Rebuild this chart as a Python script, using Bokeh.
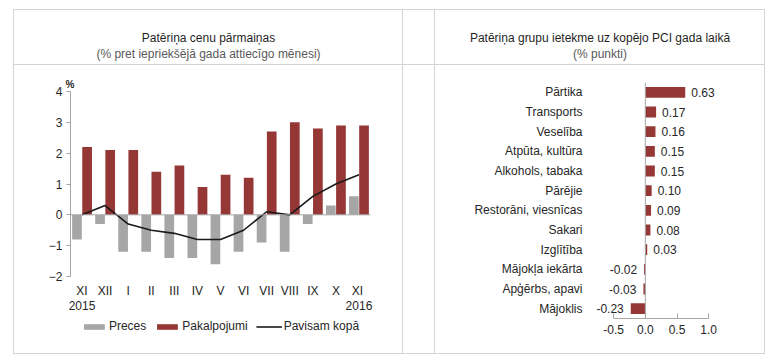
import json
from bokeh.plotting import figure
from bokeh.models import (ColumnDataSource, FactorRange, Range1d, Span, Legend, LegendItem,
                          FixedTicker, NumeralTickFormatter, Title, Spacer, CategoricalAxis,
                          CustomJSTickFormatter)
from bokeh.layouts import row, column
from bokeh.transform import dodge
from bokeh.core.properties import value
from bokeh.embed import file_html
from bokeh.resources import INLINE

# ---------------- data ----------------
months = ["XI", "XII", "I", "II", "III", "IV", "V", "VI", "VII", "VIII", "IX", "X", "XI "]
years = {"XI": "2015", "XI ": "2016"}
preces = [-0.8, -0.3, -1.2, -1.2, -1.4, -1.4, -1.6, -1.2, -0.9, -1.2, -0.3, 0.3, 0.6]
pakalpojumi = [2.2, 2.1, 2.1, 1.4, 1.6, 0.9, 1.3, 1.2, 2.7, 3.0, 2.8, 2.9, 2.9]
pavisam = [0.0, 0.3, -0.3, -0.5, -0.6, -0.8, -0.8, -0.5, 0.1, 0.0, 0.6, 1.0, 1.3]
y_ticks_left = [-2, -1, 0, 1, 2, 3, 4]
series_names = ["Preces", "Pakalpojumi", "Pavisam kopā"]

groups = ["Pārtika", "Transports", "Veselība", "Atpūta, kultūra", "Alkohols, tabaka", "Pārējie",
          "Restorāni, viesnīcas", "Sakari", "Izglītība", "Mājokļa iekārta", "Apģērbs, apavi", "Mājoklis"]
impact = [0.63, 0.17, 0.16, 0.15, 0.15, 0.10, 0.09, 0.08, 0.03, -0.02, -0.03, -0.23]
x_ticks_right = [-0.5, 0.0, 0.5, 1.0]

title_left = "Patēriņa cenu pārmaiņas"
subtitle_left = "(% pret iepriekšējā gada attiecīgo mēnesi)"
title_right = "Patēriņa grupu ietekme uz kopējo PCI gada laikā"
subtitle_right = "(% punkti)"

# ---------------- style ----------------
FONT = "Liberation Sans"
RED = "#953735"
GREY = "#a6a6a6"
LINE = "#1a1a1a"
BORDER = "#d4d4d4"
AXIS = "#a6a6a6"
TXT = "#262626"

W_LEFT, W_MID, W_RIGHT = 388, 31, 329
H_HEAD, H_BODY = 54, 288
H_LEG = 38
W_TOTAL = W_LEFT + W_MID + W_RIGHT + 4


def blank(w, h, x_range=None, y_range=None, **kw):
    f = figure(width=w, height=h, x_range=x_range or Range1d(0, 1),
               y_range=y_range or Range1d(0, h),
               x_axis_location=None, y_axis_location=None, min_border=0,
               output_backend="svg", toolbar_location=None, **kw)
    f.grid.visible = False
    f.outline_line_color = None
    return f


def header(w, title, subtitle):
    f = blank(w, H_HEAD)
    f.text(x=[0.5, 0.5], y=[H_HEAD - 27, H_HEAD - 43], text=[title, subtitle],
           text_color=["#1f1f1f", "#595959"], text_align="center", text_baseline="middle",
           text_font=value(FONT), text_font_size="12px")
    return f


def vline(h):
    return Spacer(width=1, height=h, margin=0, styles={"background-color": BORDER})


def hline():
    return Spacer(width=W_TOTAL, height=1, margin=0, styles={"background-color": BORDER})


def add_series(f, source):
    a = f.vbar(x=dodge("month", -0.22, range=f.x_range), top="preces", width=0.42, source=source,
               fill_color=GREY, line_color=None)
    b = f.vbar(x=dodge("month", 0.22, range=f.x_range), top="pak", width=0.42, source=source,
               fill_color=RED, line_color=None)
    return a, b


h1 = header(W_LEFT, title_left, subtitle_left)
hm = blank(W_MID, H_HEAD)
h2 = header(W_RIGHT, title_right, subtitle_right)

# ---------------- left chart ----------------
H_P1 = H_BODY - H_LEG
src = ColumnDataSource(dict(month=months, preces=preces, pak=pakalpojumi, tot=pavisam))
p1 = figure(frame_width=300, frame_height=185, x_range=FactorRange(factors=months),
            y_range=Range1d(-2, 4), min_border_left=56, min_border_right=W_LEFT - 56 - 300,
            min_border_top=26, min_border_bottom=H_P1 - 26 - 185,
            output_backend="svg", toolbar_location=None)
p1.grid.visible = False
p1.outline_line_color = None

add_series(p1, src)
p1.add_layout(Span(location=0, dimension="width", line_color=AXIS, line_width=1))
p1.line(x="month", y="tot", source=src, line_color=LINE, line_width=1.6)

p1.yaxis.ticker = FixedTicker(ticks=y_ticks_left)
p1.yaxis.axis_line_color = AXIS
p1.yaxis.major_tick_line_color = AXIS
p1.yaxis.major_tick_out = 4
p1.yaxis.major_tick_in = 0
p1.yaxis.minor_tick_line_color = None
p1.yaxis.major_label_standoff = 4
p1.xaxis.axis_line_color = None
p1.xaxis.major_tick_line_color = None
p1.xaxis.major_tick_out = 0
p1.xaxis.major_tick_in = 0
p1.xaxis.major_label_standoff = 7

year_axis = CategoricalAxis(
    axis_line_color=None, major_tick_line_color=None, major_tick_out=0, major_tick_in=0,
    major_label_standoff=0,
    formatter=CustomJSTickFormatter(code="const y = %s; return (tick in y) ? y[tick] : '';"
                                    % json.dumps(years)))
p1.add_layout(year_axis, "below")

for ax in (p1.xaxis[0], p1.yaxis[0], year_axis):
    ax.major_label_text_font = FONT
    ax.major_label_text_font_size = "12px"
    ax.major_label_text_color = TXT

p1.add_layout(Title(text="%", align="left", offset=-5, standoff=4, text_font=FONT,
                    text_font_size="10px", text_font_style="bold", text_color=TXT), "above")

# legend strip below the chart: same series, view window kept above the data
leg = blank(W_LEFT, H_LEG, x_range=FactorRange(factors=months), y_range=Range1d(100, 101),
            min_border_left=22)
lr1, lr2 = add_series(leg, src)
lr3 = leg.line(x="month", y="tot", source=src, line_color=LINE, line_width=1.6)
legend = Legend(items=[LegendItem(label=n, renderers=[r]) for n, r in zip(series_names, [lr1, lr2, lr3])],
                orientation="horizontal", location="top_center", glyph_width=26, glyph_height=7,
                label_height=14, label_standoff=2, spacing=8, padding=0, margin=4,
                border_line_color=None, background_fill_alpha=0,
                label_text_font=FONT, label_text_font_size="12px", label_text_color=TXT)
leg.add_layout(legend)

pm = blank(W_MID, H_BODY)

# ---------------- right chart ----------------
src2 = ColumnDataSource(dict(group=groups, impact=impact))
pos = ColumnDataSource(dict(group=[g for g, v in zip(groups, impact) if v >= 0],
                            impact=[v for v in impact if v >= 0],
                            lab=["%.2f" % v for v in impact if v >= 0]))
neg = ColumnDataSource(dict(group=[g for g, v in zip(groups, impact) if v < 0],
                            impact=[v for v in impact if v < 0],
                            lab=["%.2f" % v for v in impact if v < 0]))

p2 = figure(frame_width=133, frame_height=236, y_range=FactorRange(factors=groups[::-1]),
            x_range=Range1d(-0.85, 1.25), min_border_left=156,
            min_border_right=W_RIGHT - 156 - 133,
            min_border_top=17, min_border_bottom=H_BODY - 17 - 236,
            output_backend="svg", toolbar_location=None)
p2.grid.visible = False
p2.outline_line_color = None
p2.hbar(y="group", right="impact", height=0.55, source=src2, fill_color=RED, line_color=None)
p2.add_layout(Span(location=0, dimension="height", line_color=AXIS, line_width=1))
p2.text(x="impact", y="group", text="lab", source=pos, x_offset=6, text_align="left",
        text_baseline="middle", text_font=value(FONT), text_font_size="12px", text_color=TXT)
p2.text(x="impact", y="group", text="lab", source=neg, x_offset=-7, text_align="right",
        text_baseline="middle", text_font=value(FONT), text_font_size="12px", text_color=TXT)

p2.xaxis.ticker = FixedTicker(ticks=x_ticks_right)
p2.xaxis.formatter = NumeralTickFormatter(format="0.0")
p2.xaxis.bounds = (x_ticks_right[0], x_ticks_right[-1])
p2.xaxis.axis_line_color = AXIS
p2.xaxis.major_tick_line_color = AXIS
p2.xaxis.major_tick_in = 5
p2.xaxis.major_tick_out = 0
p2.xaxis.minor_tick_line_color = None
p2.xaxis.major_label_standoff = 6
p2.yaxis.axis_line_color = None
p2.yaxis.major_tick_line_color = None
p2.yaxis.major_tick_out = 0
p2.yaxis.major_tick_in = 0
p2.yaxis.major_label_standoff = 9
for ax in (p2.xaxis, p2.yaxis):
    ax.major_label_text_font = FONT
    ax.major_label_text_font_size = "12px"
    ax.major_label_text_color = TXT

# ---------------- layout ----------------
top = row(vline(H_HEAD), h1, vline(H_HEAD), hm, vline(H_HEAD), h2, vline(H_HEAD))
body = row(vline(H_BODY), column(p1, leg), vline(H_BODY), pm, vline(H_BODY), p2, vline(H_BODY))
layout = column(hline(), top, hline(), body, hline(), margin=(9, 0, 0, 13))

open("out.html", "w").write(file_html(layout, INLINE))
